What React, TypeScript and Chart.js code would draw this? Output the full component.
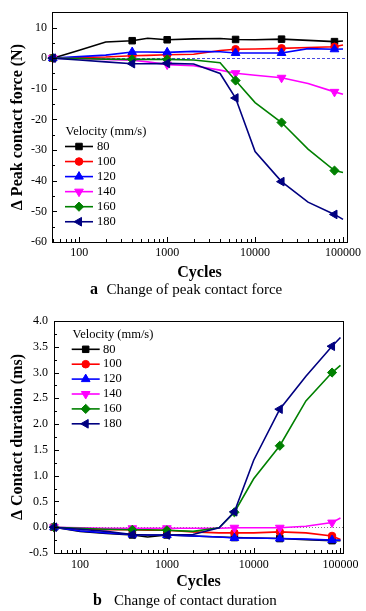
import React, { useEffect, useRef } from 'react';
import { Chart, registerables } from 'chart.js';

Chart.register(...registerables);

// ---------- data ----------
const cycles = [50, 100, 200, 400, 600, 1000, 2000, 4000, 6000, 10000, 20000, 40000, 80000, 100000];
const markedCycles = [50, 400, 1000, 6000, 20000, 80000];
const velocityLabels = ['80', '100', '120', '140', '160', '180'];

// Δ Peak contact force (N)
const force80 = [0, 2.6, 5.3, 5.7, 6.5, 6.0, 6.3, 6.4, 6.1, 6.0, 6.2, 5.8, 5.4, 5.6];
const force100 = [0, 0.2, 0.4, 0.8, 0.9, 1.1, 1.3, 2.5, 2.9, 3.0, 3.2, 3.5, 3.7, 4.3];
const force120 = [0, 0.5, 1.0, 2.0, 2.0, 1.9, 2.2, 2.1, 1.7, 1.7, 1.7, 3.1, 2.9, 3.0];
const force140 = [0, -0.2, -0.4, -0.7, -1.2, -2.1, -2.5, -3.9, -4.9, -5.6, -6.4, -8.3, -11.0, -11.8];
const force160 = [0, -0.1, -0.3, -0.4, -0.4, -0.4, -0.6, -1.5, -7.3, -14.5, -21.0, -29.7, -36.7, -37.3];
const force180 = [0, -0.6, -1.2, -1.8, -1.8, -1.7, -1.9, -5.0, -13.0, -30.5, -40.3, -47.0, -51.0, -52.6];

// Δ Contact duration (ms)
const dur80 = [0, -0.08, -0.12, -0.15, -0.19, -0.15, -0.17, -0.19, -0.2, -0.21, -0.22, -0.24, -0.26, -0.26];
const dur100 = [0, -0.04, -0.05, -0.05, -0.06, -0.06, -0.09, -0.11, -0.11, -0.11, -0.09, -0.11, -0.17, -0.24];
const dur120 = [0, -0.07, -0.11, -0.14, -0.15, -0.15, -0.17, -0.19, -0.21, -0.21, -0.22, -0.23, -0.25, -0.25];
const dur140 = [0, -0.01, -0.02, -0.02, -0.02, -0.02, -0.02, -0.02, -0.01, -0.01, -0.01, 0.02, 0.09, 0.18];
const dur160 = [0, -0.02, -0.04, -0.05, -0.05, -0.06, -0.08, -0.01, 0.29, 0.94, 1.58, 2.45, 3.0, 3.14];
const dur180 = [0, -0.04, -0.08, -0.14, -0.15, -0.15, -0.14, -0.01, 0.3, 1.3, 2.29, 2.93, 3.51, 3.68];

const xTickValues = [100, 1000, 10000, 100000];
const forceTicks = [-60, -50, -40, -30, -20, -10, 0, 10];
const durationTicks = [-0.5, 0, 0.5, 1.0, 1.5, 2.0, 2.5, 3.0, 3.5, 4.0];

const forceSeries = [force80, force100, force120, force140, force160, force180];
const durSeries = [dur80, dur100, dur120, dur140, dur160, dur180];

// ---------- styles ----------
const FONT = "'Liberation Serif', 'Times New Roman', serif";
const seriesStyles = [
  { color: '#000000', pointStyle: 'rect', rotation: 0, radius: 4.6 },
  { color: '#ff0000', pointStyle: 'circle', rotation: 0, radius: 3.8 },
  { color: '#0000ff', pointStyle: 'triangle', rotation: 0, radius: 5 },
  { color: '#ff00ff', pointStyle: 'triangle', rotation: 180, radius: 5 },
  { color: '#008000', pointStyle: 'rectRot', rotation: 0, radius: 4.6 },
  { color: '#000080', pointStyle: 'triangle', rotation: -90, radius: 5 },
];

function drawMarker(ctx: CanvasRenderingContext2D, st: any, x: number, y: number) {
  const r = st.radius;
  ctx.save();
  ctx.fillStyle = st.color;
  ctx.strokeStyle = st.color;
  ctx.lineWidth = 1;
  ctx.setLineDash([]);
  ctx.beginPath();
  if (st.pointStyle === 'rect') {
    const s = Math.SQRT1_2 * r;
    ctx.rect(x - s, y - s, 2 * s, 2 * s);
  } else if (st.pointStyle === 'circle') {
    ctx.arc(x, y, r, 0, Math.PI * 2);
  } else if (st.pointStyle === 'rectRot') {
    ctx.moveTo(x - r, y);
    ctx.lineTo(x, y - r);
    ctx.lineTo(x + r, y);
    ctx.lineTo(x, y + r);
    ctx.closePath();
  } else {
    let rad = (st.rotation * Math.PI) / 180;
    for (let k = 0; k < 3; k++) {
      const px = x + Math.sin(rad) * r;
      const py = y - Math.cos(rad) * r;
      if (k === 0) ctx.moveTo(px, py);
      else ctx.lineTo(px, py);
      rad += (2 * Math.PI) / 3;
    }
    ctx.closePath();
  }
  ctx.fill();
  ctx.stroke();
  ctx.restore();
}

function makeDecor(cfg: any) {
  return {
    id: 'decor',
    beforeDatasetsDraw(chart: any) {
      const { ctx, chartArea: a, scales } = chart;
      const py = Math.round(scales.y.getPixelForValue(0)) + 0.5;
      ctx.save();
      ctx.strokeStyle = cfg.zeroColor;
      ctx.lineWidth = 1;
      ctx.setLineDash(cfg.zeroDash);
      ctx.beginPath();
      ctx.moveTo(a.left, py);
      ctx.lineTo(a.right, py);
      ctx.stroke();
      ctx.restore();
    },
    afterDraw(chart: any) {
      const { ctx, chartArea: a, scales } = chart;
      const xs = scales.x;
      const ys = scales.y;
      ctx.save();
      ctx.strokeStyle = '#000';
      ctx.lineWidth = 1;
      ctx.setLineDash([]);
      ctx.strokeRect(Math.round(a.left) + 0.5, Math.round(a.top) + 0.5, Math.round(a.right - a.left), Math.round(a.bottom - a.top));
      ctx.beginPath();
      // x ticks (log, inward)
      for (let d = 10; d <= 100000; d *= 10) {
        for (let k = 1; k <= 9; k++) {
          const v = k * d;
          if (v < xs.min || v > xs.max) continue;
          const px = Math.round(xs.getPixelForValue(v)) + 0.5;
          const len = k === 1 ? 5 : 3;
          ctx.moveTo(px, a.bottom);
          ctx.lineTo(px, a.bottom - len);
        }
      }
      // y ticks (inward)
      for (let i = 0; i < cfg.yTicks.length; i++) {
        const v = cfg.yTicks[i];
        const py = Math.round(ys.getPixelForValue(v)) + 0.5;
        ctx.moveTo(a.left, py);
        ctx.lineTo(a.left + 5, py);
        const mv = v + cfg.yStep / 2;
        if (mv < ys.max + 1e-9) {
          const pm = Math.round(ys.getPixelForValue(mv)) + 0.5;
          ctx.moveTo(a.left, pm);
          ctx.lineTo(a.left + 3, pm);
        }
      }
      ctx.stroke();

      // legend
      ctx.fillStyle = '#000';
      ctx.font = `12.5px ${FONT}`;
      ctx.textBaseline = 'middle';
      ctx.textAlign = 'left';
      ctx.fillText('Velocity (mm/s)', cfg.legendTitleX, cfg.legendTitleY);
      for (let i = 0; i < velocityLabels.length; i++) {
        const st = seriesStyles[i];
        const y = cfg.legendRowY + i * cfg.rowGap;
        ctx.strokeStyle = st.color;
        ctx.lineWidth = 1.6;
        ctx.beginPath();
        ctx.moveTo(cfg.lineX, y);
        ctx.lineTo(cfg.lineX + cfg.lineW, y);
        ctx.stroke();
        drawMarker(ctx, st, cfg.lineX + cfg.lineW / 2, y);
        ctx.fillStyle = '#000';
        ctx.fillText(velocityLabels[i], cfg.labelX, y);
      }
      ctx.restore();
    },
  };
}

function buildConfig(series: number[][], p: any) {
  const datasets = series.map((vals, i) => {
    const st = seriesStyles[i];
    return {
      label: velocityLabels[i],
      data: vals.map((v, j) => ({ x: cycles[j], y: v })),
      borderColor: st.color,
      backgroundColor: st.color,
      borderWidth: 1.6,
      pointStyle: st.pointStyle,
      pointRotation: st.rotation,
      pointRadius: cycles.map((c) => (markedCycles.includes(c) ? st.radius : 0)),
      pointBackgroundColor: st.color,
      pointBorderColor: st.color,
      pointBorderWidth: 1,
      tension: 0,
      clip: false,
      order: series.length - i,
    };
  });
  const tickFont = { family: FONT, size: 12 };
  const titleFont = { family: FONT, size: 16, weight: 'bold' as const };
  return {
    type: 'line' as const,
    data: { datasets },
    options: {
      animation: false,
      responsive: false,
      maintainAspectRatio: false,
      devicePixelRatio: 1,
      layout: { padding: p.padding },
      plugins: { legend: { display: false }, tooltip: { enabled: false } },
      scales: {
        x: {
          type: 'logarithmic',
          min: p.xMin,
          max: p.xMax,
          afterBuildTicks: (s: any) => {
            s.ticks = xTickValues.map((v) => ({ value: v }));
          },
          afterFit: (s: any) => {
            s.height = p.xHeight;
          },
          ticks: {
            callback: (v: any) => String(v),
            font: tickFont,
            color: '#000',
            padding: p.xTickPad,
            maxRotation: 0,
            autoSkip: false,
          },
          grid: { display: false, drawTicks: false },
          border: { display: false },
          title: { display: true, text: 'Cycles', font: titleFont, color: '#000', padding: { top: 0, bottom: 0 } },
        },
        y: {
          type: 'linear',
          min: p.yMin,
          max: p.yMax,
          afterBuildTicks: (s: any) => {
            s.ticks = p.yTicks.map((v: number) => ({ value: v }));
          },
          afterFit: (s: any) => {
            s.width = p.yWidth;
          },
          ticks: {
            callback: p.yFormat,
            font: tickFont,
            color: '#000',
            padding: p.yTickPad,
          },
          grid: { display: false, drawTicks: false },
          border: { display: false },
          title: { display: true, text: p.yTitle, font: titleFont, color: '#000', padding: { top: 8, bottom: 0 } },
        },
      },
    },
    plugins: [makeDecor(p.decor)],
  };
}

export default function App() {
  const topRef = useRef<HTMLCanvasElement>(null);
  const botRef = useRef<HTMLCanvasElement>(null);

  useEffect(() => {
    const c1 = new Chart(
      topRef.current as HTMLCanvasElement,
      buildConfig(forceSeries, {
        padding: { left: 0, right: 19, top: 5, bottom: 18 },
        xMin: 49,
        xMax: 111000,
        xHeight: 40,
        xTickPad: 4,
        yMin: -60,
        yMax: 15,
        yTicks: forceTicks,
        yWidth: 52,
        yTickPad: 5,
        yFormat: (v: any) => String(v),
        yTitle: 'Δ Peak contact force (N)',
        decor: {
          zeroColor: '#4a4ae0',
          zeroDash: [3, 2],
          yTicks: forceTicks,
          yStep: 10,
          legendTitleX: 65.5,
          legendTitleY: 131.7,
          legendRowY: 146.5,
          rowGap: 15.05,
          lineX: 65,
          lineW: 28,
          labelX: 97,
        },
      }) as any
    );
    const c2 = new Chart(
      botRef.current as HTMLCanvasElement,
      buildConfig(durSeries, {
        padding: { left: 0, right: 23, top: 21, bottom: 20 },
        xMin: 50,
        xMax: 107000,
        xHeight: 38,
        xTickPad: 4.5,
        yMin: -0.5,
        yMax: 4.0,
        yTicks: durationTicks,
        yWidth: 54,
        yTickPad: 6,
        yFormat: (v: any) => Number(v).toFixed(1),
        yTitle: 'Δ Contact duration (ms)',
        decor: {
          zeroColor: '#808080',
          zeroDash: [1, 2],
          yTicks: durationTicks,
          yStep: 0.5,
          legendTitleX: 72.5,
          legendTitleY: 34.3,
          legendRowY: 49.3,
          rowGap: 14.9,
          lineX: 71.7,
          lineW: 28,
          labelX: 103,
        },
      }) as any
    );
    return () => {
      c1.destroy();
      c2.destroy();
    };
  }, []);

  const capStyle: React.CSSProperties = {
    position: 'absolute',
    fontFamily: FONT,
    fontSize: 15,
    lineHeight: '18px',
    color: '#000',
    whiteSpace: 'nowrap',
  };

  return (
    <div style={{ position: 'absolute', left: 0, top: 0, width: 366, height: 611, background: '#fff', overflow: 'hidden' }}>
      <canvas ref={topRef} width={366} height={300} style={{ position: 'absolute', left: 0, top: 0, width: 366, height: 300 }} />
      <canvas ref={botRef} width={366} height={311} style={{ position: 'absolute', left: 0, top: 300, width: 366, height: 311 }} />
      <div style={{ ...capStyle, left: 90, top: 280, fontWeight: 'bold', fontSize: 16 }}>a</div>
      <div style={{ ...capStyle, left: 106.5, top: 280 }}>Change of peak contact force</div>
      <div style={{ ...capStyle, left: 93, top: 591, fontWeight: 'bold', fontSize: 16 }}>b</div>
      <div style={{ ...capStyle, left: 114, top: 591 }}>Change of contact duration</div>
    </div>
  );
}
